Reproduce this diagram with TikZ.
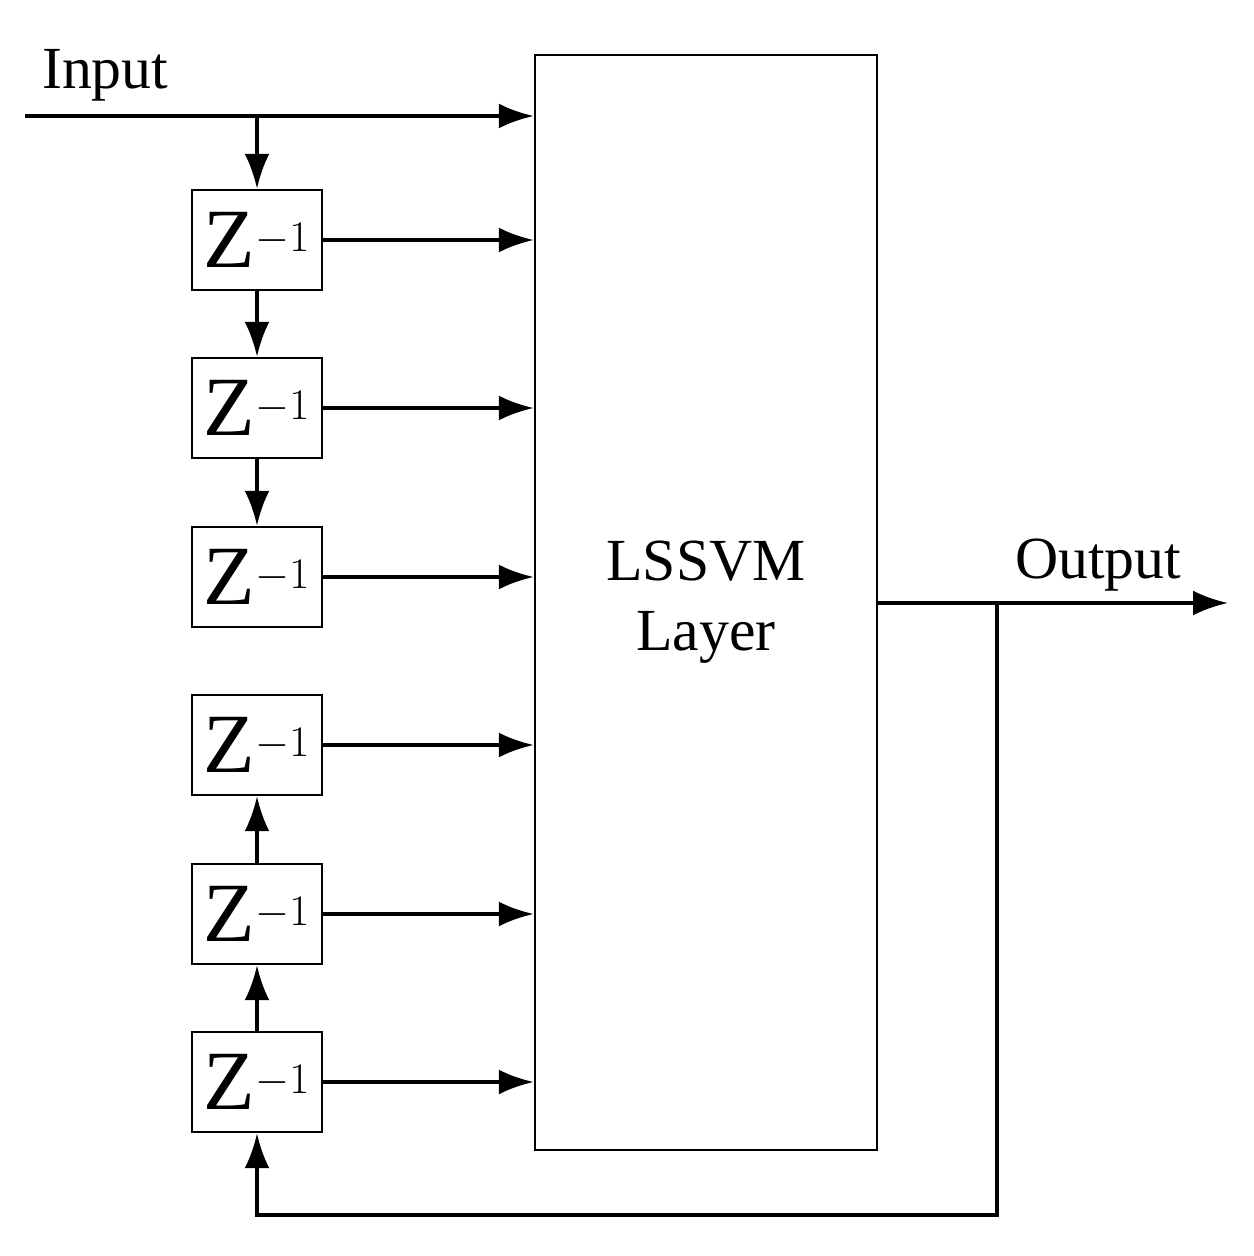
\documentclass[tikz,border=0pt]{standalone}
\usepackage{fontspec}
\setmainfont{Liberation Serif}
\usetikzlibrary{arrows.meta, positioning}
\begin{document}
\begin{tikzpicture}[x=0.02cm, y=-0.02cm]

        % Setup the styles
        \tikzset{delay style/.style={draw, line width=1.4pt,
                                     minimum width=2.6cm,
                                     minimum height=2cm,
                                     inner sep=0pt,
                                     font=\fontsize{48}{48}\selectfont},
                 wire/.style={line width=2.2pt},
                 arrow/.style={wire, -{Latex[length=0.7cm,width=0.5cm]}},
                 label style/.style={font=\fontsize{34}{40}\selectfont}}

        \useasboundingbox (0,0) rectangle (1253,1256);

        % Draw the blocks
        \node[draw, line width=1.4pt, minimum width=6.84cm, minimum height=21.9cm,
              align=center, label style, inner sep=0pt] at (706, 602.5) (L) {LSSVM\\Layer};
        \node[delay style] at (257, 240)  (D1) {Z$^{-1}$};
        \node[delay style] at (257, 408)  (D2) {Z$^{-1}$};
        \node[delay style] at (257, 577)  (D3) {Z$^{-1}$};
        \node[delay style] at (257, 745)  (D4) {Z$^{-1}$};
        \node[delay style] at (257, 914)  (D5) {Z$^{-1}$};
        \node[delay style] at (257, 1082) (D6) {Z$^{-1}$};

        % Input and output
        \coordinate (in) at (25, 116);
        \coordinate (tap) at (257, 116);
        \coordinate (out) at (1228, 603);
        \coordinate (fb) at (997, 603);
        \coordinate (fbl) at (997, 1215);
        \coordinate (fbr) at (257, 1215);
        \node[label style, anchor=west] at (36, 75) (I) {Input};
        \node[label style] at (1098, 565) (O) {Output};

        % Connect the blocks with arrows
        \draw[arrow] (in) -- (in -| L.west);
        \draw[arrow] (tap) -- (D1.north);
        \draw[arrow] (D1) -- (D2);
        \draw[arrow] (D2) -- (D3);
        \draw[arrow] (D6) -- (D5);
        \draw[arrow] (D5) -- (D4);
        \foreach \d in {D1,D2,D3,D4,D5,D6}
            \draw[arrow] (\d.east) -- (\d.east -| L.west);
        \draw[arrow] (fb -| L.east) -- (out);
        \draw[arrow] (fb) -- (fbl) -- (fbr) -- (D6.south);
\end{tikzpicture}
\end{document}
